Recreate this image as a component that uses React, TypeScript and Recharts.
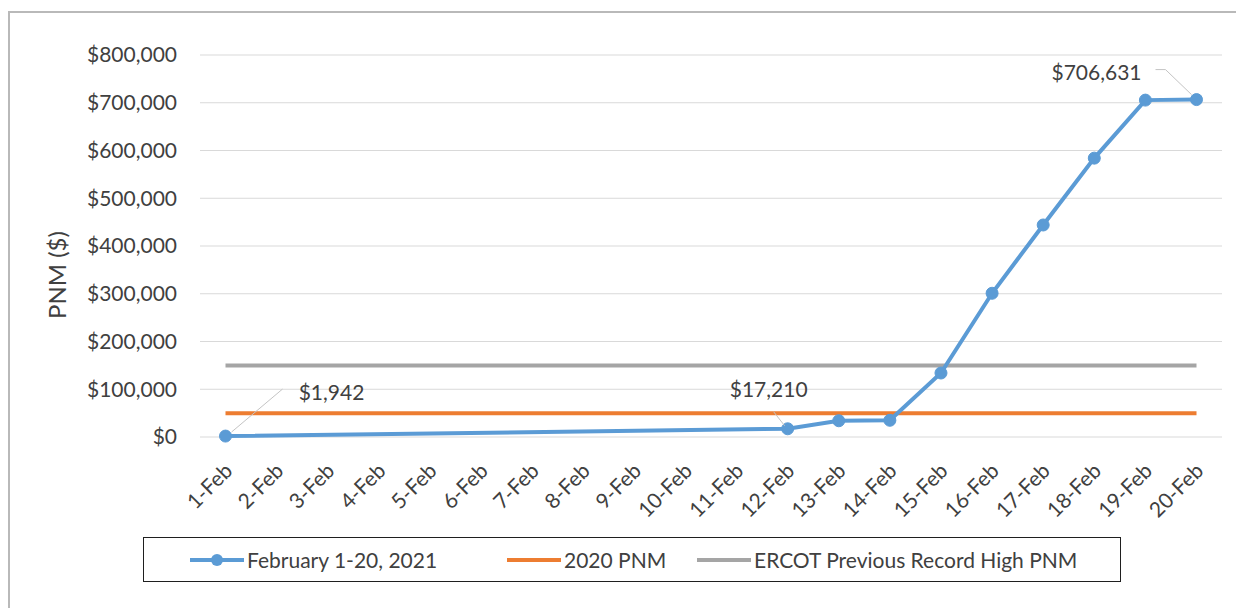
import { LineChart, Line, XAxis, YAxis, CartesianGrid, LabelList } from 'recharts'

const FONT = 'Lato, "Open Sans", sans-serif'
const INK = '#404040'

// Dates along the x axis
const days = [
  '1-Feb', '2-Feb', '3-Feb', '4-Feb', '5-Feb', '6-Feb', '7-Feb', '8-Feb', '9-Feb', '10-Feb',
  '11-Feb', '12-Feb', '13-Feb', '14-Feb', '15-Feb', '16-Feb', '17-Feb', '18-Feb', '19-Feb', '20-Feb',
]

// Daily PNM, Feb 2021 (no values reported 2-Feb .. 11-Feb)
const feb2021 = [
  1942, null, null, null, null, null, null, null, null, null,
  null, 17210, 34000, 35000, 134000, 301000, 444000, 584000, 705500, 706631,
]

// Reference levels
const pnm2020 = days.map(() => 50000)
const ercotRecord = days.map(() => 150000)

const yTicks = [0, 100000, 200000, 300000, 400000, 500000, 600000, 700000, 800000]

const SERIES = [
  { key: 'feb', name: 'February 1-20, 2021', color: '#5b9bd5', marker: true },
  { key: 'pnm', name: '2020 PNM', color: '#ed7d31', marker: false },
  { key: 'rec', name: 'ERCOT Previous Record High PNM', color: '#a5a5a5', marker: false },
]

const chartData = days.map((d, i) => ({
  day: d,
  feb: feb2021[i],
  pnm: pnm2020[i],
  rec: ercotRecord[i],
}))

const money = (v: number) => '$' + v.toLocaleString('en-US')

// callout placement (label centre offset + leader line) for the labelled points
const CALLOUTS: Record<number, { dx: number; dy: number; leader: number[][] }> = {
  0: { dx: 106, dy: -43, leader: [[57, -47], [6, -4]] },
  11: { dx: -19, dy: -39, leader: [[-14, -17], [-3, -3]] },
  19: { dx: -100, dy: -27, leader: [[-41, -30], [-31, -30], [-5, -5]] },
}

const Callout = (props: any) => {
  const { x, y, value, index } = props
  const c = CALLOUTS[index]
  if (!c || value == null) return null
  const pts = c.leader.map(([px, py]) => `${x + px},${y + py}`).join(' ')
  return (
    <g>
      <polyline points={pts} fill="none" stroke="#c4c4c4" strokeWidth={1} />
      <text x={x + c.dx} y={y + c.dy} dy="0.35em" textAnchor="middle"
        fontFamily={FONT} fontSize={21} fill={INK}>
        {money(value)}
      </text>
    </g>
  )
}

const DayTick = ({ x, y, payload }: any) => (
  <g transform={`translate(${x + 3},${y + 22})`}>
    <text transform="rotate(-45)" textAnchor="end" dy="0.35em"
      fontFamily={FONT} fontSize={21} fill={INK}>
      {payload.value}
    </text>
  </g>
)

const AxisTitle = ({ viewBox }: any) => {
  const cx = viewBox.x - 10
  const cy = viewBox.y + viewBox.height / 2 + 29
  return (
    <text x={cx} y={cy} transform={`rotate(-90, ${cx}, ${cy})`} textAnchor="middle" dy="0.35em"
      fontFamily={FONT} fontSize={24} fill={INK}>
      PNM ($)
    </text>
  )
}

function LegendSwatch({ color, marker }: { color: string; marker: boolean }) {
  return (
    <svg width={56} height={14} style={{ display: 'block' }}>
      <line x1={1} y1={7} x2={55} y2={7} stroke={color} strokeWidth={4} />
      {marker && <circle cx={28} cy={7} r={6} fill={color} />}
    </svg>
  )
}

export default function App() {
  const legendLeft = [45, 362, 552]
  return (
    <div style={{ position: 'relative', width: 1236, height: 600, fontFamily: FONT }}>
      {/* outer frame, only top and left edges show */}
      <div style={{
        position: 'absolute', left: 0, top: 3, width: 1240, height: 600,
        borderTop: '2px solid #b9b9b9', borderLeft: '2px solid #b9b9b9',
      }} />
      <LineChart width={1236} height={600} data={chartData}
        margin={{ top: 47, right: 22, bottom: 0, left: 60 }}
        style={{ position: 'absolute', left: 0, top: 0 }}>
        <CartesianGrid vertical={false} stroke="#d9d9d9" strokeWidth={1} />
        <XAxis dataKey="day" interval={0} height={171} padding={{ left: 25.5, right: 25.5 }}
          axisLine={false} tickLine={false} tick={<DayTick />} />
        <YAxis width={132} domain={[0, 800000]} ticks={yTicks} interval={0}
          axisLine={false} tickLine={false} tickSize={6} tickMargin={17}
          tickFormatter={money}
          tick={{ fontSize: 21, fill: INK, fontFamily: FONT }}
          label={<AxisTitle />} />
        <Line dataKey="rec" stroke="#a5a5a5" strokeWidth={4} dot={false}
          isAnimationActive={false} />
        <Line dataKey="pnm" stroke="#ed7d31" strokeWidth={4} dot={false}
          isAnimationActive={false} />
        <Line dataKey="feb" stroke="#5b9bd5" strokeWidth={4} connectNulls
          dot={{ r: 6, fill: '#5b9bd5', stroke: '#5b9bd5', strokeWidth: 1 }}
          isAnimationActive={false}>
          <LabelList dataKey="feb" content={<Callout />} />
        </Line>
      </LineChart>
      {/* legend box */}
      <div style={{
        position: 'absolute', left: 135, top: 529, width: 976, height: 43,
        border: '1.5px solid #1f1f1f',
      }}>
        {SERIES.map((s, i) => (
          <div key={s.key} style={{
            position: 'absolute', left: legendLeft[i], top: 0, height: 43,
            display: 'flex', alignItems: 'center', gap: 2,
            fontSize: 21, color: INK, whiteSpace: 'nowrap',
          }}>
            <LegendSwatch color={s.color} marker={s.marker} />
            <span>{s.name}</span>
          </div>
        ))}
      </div>
    </div>
  )
}
